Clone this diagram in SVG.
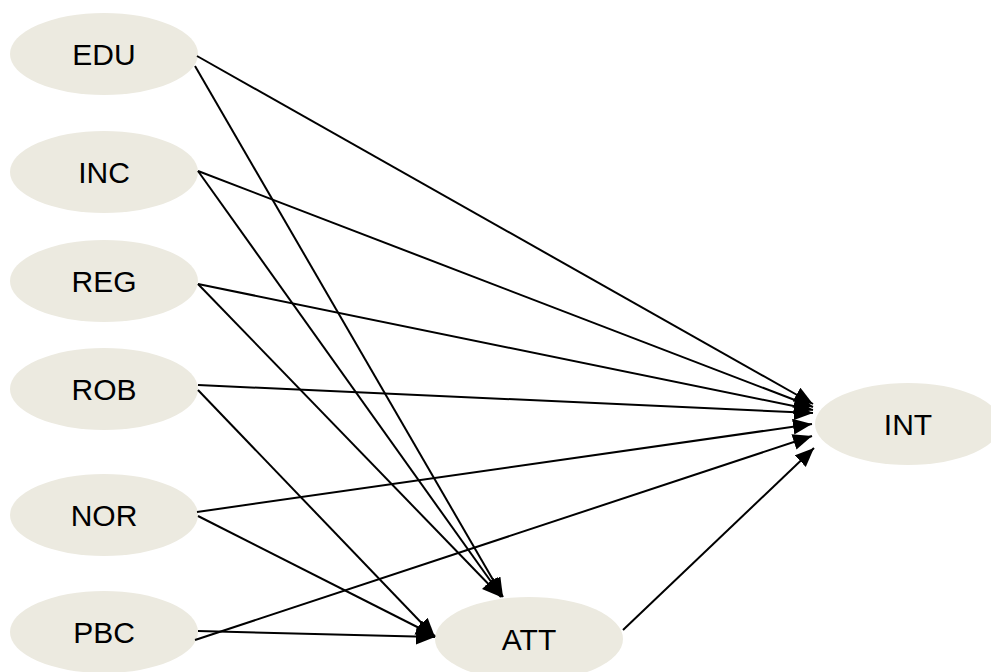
<svg xmlns="http://www.w3.org/2000/svg" width="991" height="672" viewBox="0 0 991 672">
<style>
.node ellipse{fill:#ECEAE0;stroke:none}
.node text{font-family:"Liberation Sans",Arial,sans-serif;font-size:30px;fill:#000;text-anchor:middle;dominant-baseline:central}
.edges line{stroke:#000;stroke-width:2;marker-end:url(#arr)}
</style>
<defs>
<marker id="arr" markerUnits="userSpaceOnUse" markerWidth="22" markerHeight="18" refX="19" refY="8" orient="auto">
<path d="M0,0 L19,8 L0,16 z" fill="#000"/>
</marker>
</defs>
<rect width="991" height="672" fill="#fff"/>
<g id="EDU" class="node"><ellipse cx="104" cy="54" rx="94" ry="41"/><text x="104" y="54">EDU</text></g>
<g id="INC" class="node"><ellipse cx="104" cy="172" rx="94" ry="41"/><text x="104" y="172">INC</text></g>
<g id="REG" class="node"><ellipse cx="104" cy="281" rx="94" ry="41"/><text x="104" y="281">REG</text></g>
<g id="ROB" class="node"><ellipse cx="104" cy="389" rx="94" ry="41"/><text x="104" y="389">ROB</text></g>
<g id="NOR" class="node"><ellipse cx="104" cy="515" rx="94" ry="41"/><text x="104" y="515">NOR</text></g>
<g id="PBC" class="node"><ellipse cx="104" cy="632" rx="94" ry="41"/><text x="104" y="632">PBC</text></g>
<g id="INT" class="node"><ellipse cx="908" cy="424" rx="93" ry="41"/><text x="908" y="424">INT</text></g>
<g id="ATT" class="node"><ellipse cx="529" cy="639" rx="94" ry="42"/><text x="529" y="639">ATT</text></g>
<g id="connectors" class="edges">
<line x1="197" y1="56" x2="813" y2="404"/>
<line x1="195" y1="66" x2="503" y2="597"/>
<line x1="198" y1="171" x2="813" y2="407"/>
<line x1="198" y1="171" x2="502" y2="597"/>
<line x1="198" y1="284" x2="813" y2="410"/>
<line x1="198" y1="284" x2="501" y2="597"/>
<line x1="198" y1="385" x2="813" y2="413"/>
<line x1="198" y1="390" x2="435" y2="637"/>
<line x1="197" y1="512" x2="812" y2="424"/>
<line x1="198" y1="516" x2="435" y2="636"/>
<line x1="195" y1="640" x2="812" y2="436"/>
<line x1="198" y1="631" x2="435" y2="637"/>
<line x1="623" y1="630" x2="814" y2="448"/>
</g>
</svg>
